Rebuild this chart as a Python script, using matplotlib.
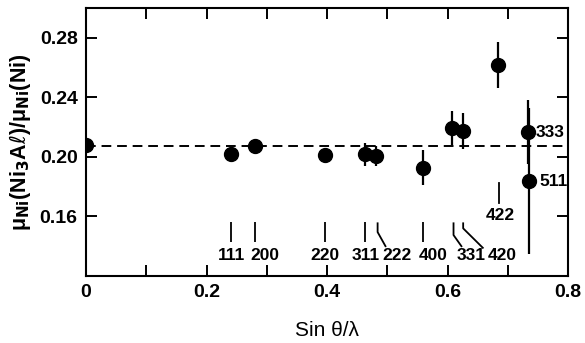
import matplotlib
matplotlib.use("Agg")
import matplotlib.pyplot as plt

plt.rcParams['font.family'] = ['Liberation Sans', 'DejaVu Sans']

# measured points: sin(theta)/lambda, ratio, error
refl = ["0", "111", "200", "220", "311", "222", "400", "331", "420", "422", "333", "511"]
x_vals = [0.0, 0.241, 0.280, 0.396, 0.463, 0.482, 0.559, 0.608, 0.625, 0.683, 0.733, 0.735]
y_vals = [0.2078, 0.2017, 0.2071, 0.2015, 0.2017, 0.2006, 0.1928, 0.2197, 0.2172, 0.2616, 0.2167, 0.1838]
y_errs = [0.0, 0.0, 0.0, 0.0, 0.0077, 0.0067, 0.0118, 0.0114, 0.012, 0.0153, 0.0213, 0.049]
mean_ratio = 0.2073

# reflection index markers (position of the reflection, label)
idx_labels = ["111", "200", "220", "311", "222", "400", "331", "420"]
idx_x = [0.241, 0.280, 0.396, 0.463, 0.484, 0.559, 0.610, 0.626]
idx_label_x = [0.241, 0.297, 0.397, 0.4635, 0.517, 0.576, 0.6385, 0.6913]

fig = plt.figure(figsize=(5.85, 3.43), dpi=100)
ax = fig.add_axes([86/585, 1-276/343, (568-86)/585, (276-8)/343])

ax.set_xlim(0, 0.8)
ax.set_ylim(0.12, 0.30)

ax.axhline(mean_ratio, color='black', lw=1.4, ls=(0, (5, 3)), zorder=1)
ax.errorbar(x_vals, y_vals, yerr=y_errs, fmt='o', color='black', ms=10,
            elinewidth=1.6, capsize=0, zorder=3)

# index markers: vertical segment then optional slanted tail
top_y, bot_y, lab_y = 0.156, 0.1425, 0.1338
tail = {"222": 0.0138, "331": 0.0140, "420": 0.0337}
bend_at = {"222": 0.1495, "331": 0.1475, "420": 0.1520}
tail_end = {"222": 0.1395, "331": 0.1395, "420": 0.1385}
lab_fs = 12.5
for lab, xv, lx in zip(idx_labels, idx_x, idx_label_x):
    if lab in tail:
        ax.plot([xv, xv, xv + tail[lab]], [top_y, bend_at[lab], tail_end[lab]],
                color='black', lw=1.3, solid_capstyle='butt')
    else:
        ax.plot([xv, xv], [top_y, bot_y], color='black', lw=1.3, solid_capstyle='butt')
    ax.text(lx, lab_y, lab, ha='center', va='center', fontsize=lab_fs, fontweight='bold')

# 422 marker (above)
ax.plot([0.686, 0.686], [0.1824, 0.169], color='black', lw=1.3)
ax.text(0.6871, 0.1607, "422", ha='center', va='center', fontsize=lab_fs, fontweight='bold')
# 333 / 511 labels
ax.text(0.746, 0.2167, "333", ha='left', va='center', fontsize=lab_fs, fontweight='bold')
ax.text(0.753, 0.1838, "511", ha='left', va='center', fontsize=lab_fs, fontweight='bold')

ax.set_xticks([0, 0.1, 0.2, 0.3, 0.4, 0.5, 0.6, 0.7, 0.8])
ax.set_xticklabels(["0", "", "0.2", "", "0.4", "", "0.6", "", "0.8"])
ax.set_yticks([0.16, 0.20, 0.24, 0.28])
ax.set_yticklabels(["0.16", "0.20", "0.24", "0.28"])
ax.tick_params(direction='in', length=8, width=1.4, top=True, right=True,
               labelsize=14, pad=6)
for t in ax.get_xticklabels() + ax.get_yticklabels():
    t.set_fontweight('bold')
for s in ax.spines.values():
    s.set_linewidth(1.5)

ax.set_xlabel("Sin θ/λ", fontsize=15, labelpad=14)
ax.set_ylabel(r"μ$_{\mathbf{Ni}}$(Ni$_{\mathbf{3}}$A$\ell$)/μ$_{\mathbf{Ni}}$(Ni)",
              fontsize=15.5, fontweight='bold', labelpad=5)

fig.savefig("out.png", dpi=100)
